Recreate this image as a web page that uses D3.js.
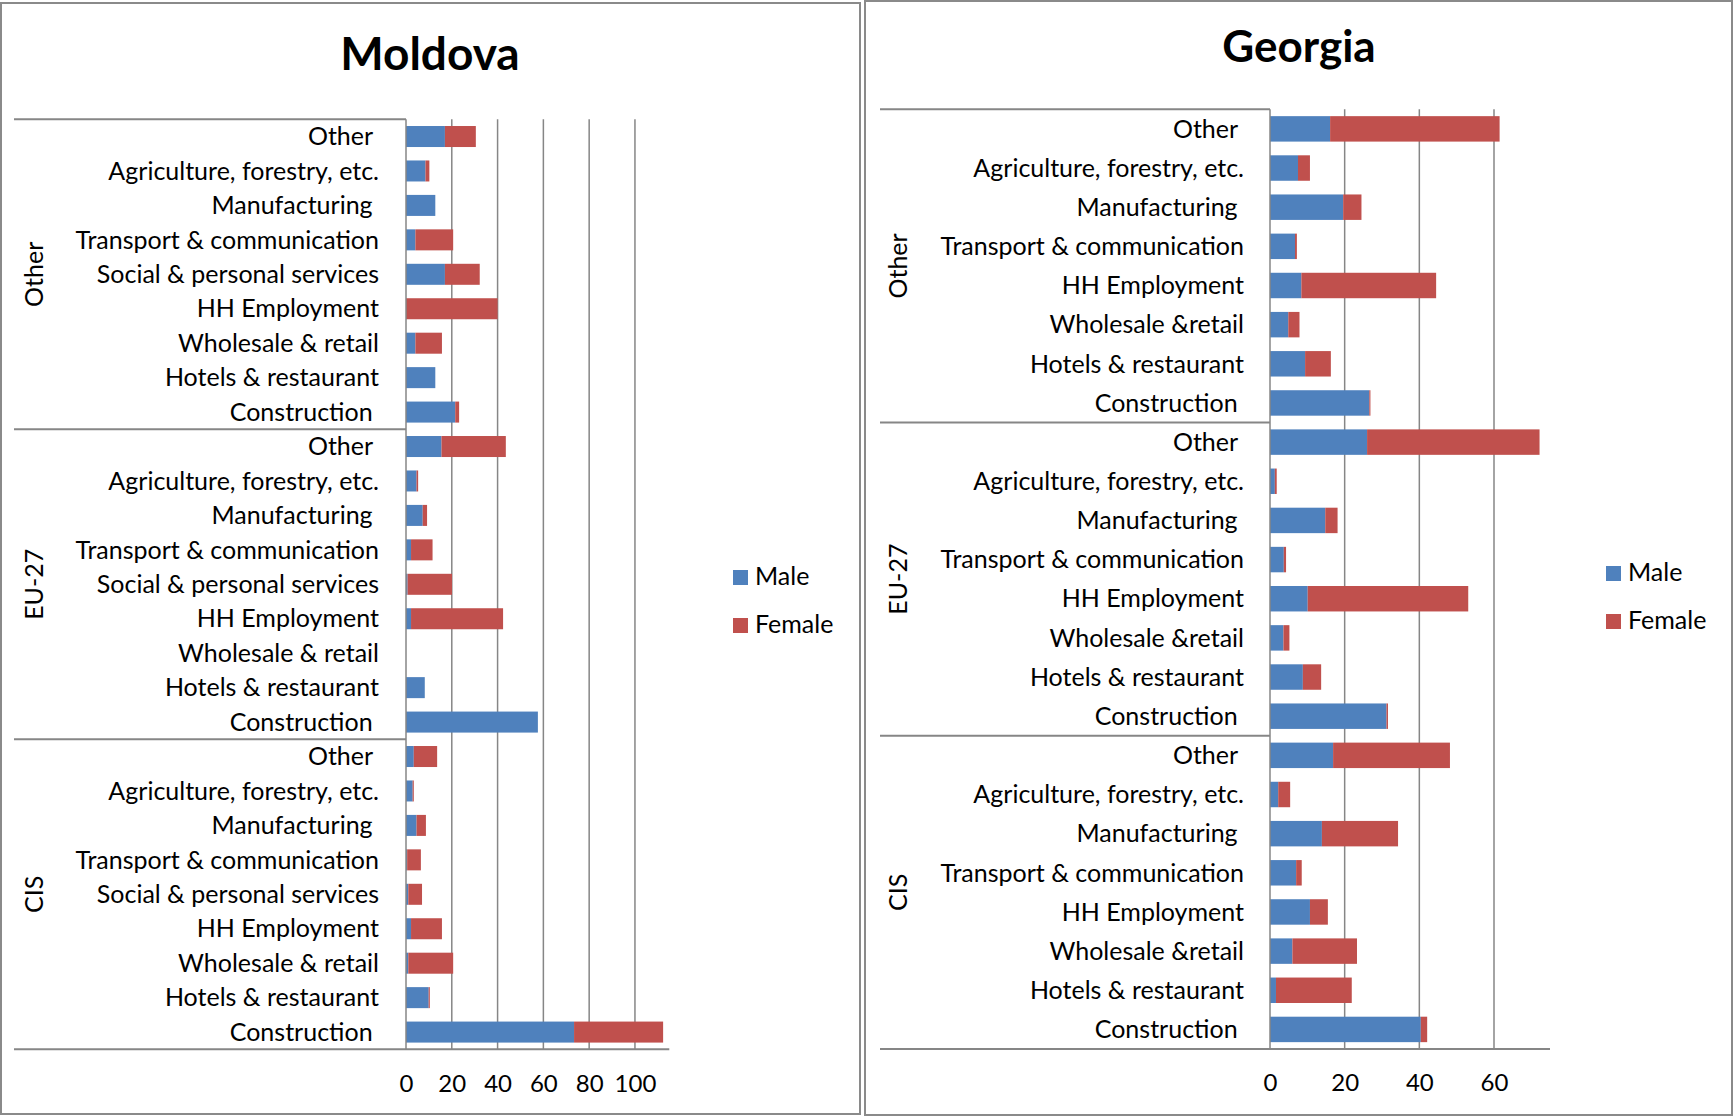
<!DOCTYPE html>
<html>
<head>
<meta charset="utf-8">
<script src="https://cdn.jsdelivr.net/npm/d3@7"></script>
<style>
  html, body { margin: 0; padding: 0; background: #fff; }
  text { font-family: Lato, "Open Sans", sans-serif; fill: #000; white-space: pre; }
</style>
</head>
<body>
<svg id="chart" width="1735" height="1117"></svg>
<script>
// Destination groups (outer category level), top to bottom
const groups = ["Other", "EU-27", "CIS"];

// Sectors (inner category level), top to bottom within each group
const moldovaSectors = ["Other ", "Agriculture, forestry, etc.", "Manufacturing ", "Transport & communication",
  "Social & personal services", "HH Employment", "Wholesale & retail", "Hotels & restaurant", "Construction "];
const georgiaSectors = ["Other ", "Agriculture, forestry, etc.", "Manufacturing ", "Transport & communication",
  "HH Employment", "Wholesale &retail", "Hotels & restaurant", "Construction "];

// Moldova: one row per group, values in sector order
const moldovaMale = [
  [17.0, 8.5, 12.8, 4.1, 17.0, 0.0, 4.1, 12.8, 21.5],
  [15.5, 4.6, 7.3, 2.2, 0.7, 2.2, 0.0, 8.2, 57.6],
  [3.4, 2.9, 4.6, 0.5, 1.0, 2.2, 1.0, 9.9, 73.4]
];
const moldovaFemale = [
  [13.5, 1.7, 0.0, 16.5, 15.2, 40.0, 11.6, 0.0, 1.7],
  [28.1, 0.7, 1.9, 9.4, 19.4, 40.2, 0.0, 0.0, 0.0],
  [10.2, 0.5, 4.1, 6.0, 6.0, 13.5, 19.6, 0.5, 38.9]
];

// Georgia: one row per group, values in sector order
const georgiaMale = [
  [16.1, 7.5, 19.6, 6.7, 8.4, 4.9, 9.4, 26.6],
  [26.0, 1.3, 14.8, 3.7, 10.1, 3.6, 8.8, 31.2],
  [16.9, 2.2, 13.9, 7.0, 10.7, 6.0, 1.6, 40.4]
];
const georgiaFemale = [
  [45.4, 3.2, 4.9, 0.5, 36.1, 3.0, 6.9, 0.3],
  [46.2, 0.5, 3.3, 0.6, 43.0, 1.6, 4.9, 0.4],
  [31.3, 3.2, 20.4, 1.5, 4.8, 17.3, 20.3, 1.7]
];

// Axis ticks
const moldovaTicks = [0, 20, 40, 60, 80, 100];
const georgiaTicks = [0, 20, 40, 60];

// Series
const seriesKeys = ["male", "female"];
const seriesNames = ["Male", "Female"];
const seriesColors = ["#4F81BD", "#C0504D"];

const svg = d3.select("#chart");
const gridColor = "#868686";

function drawPanel(cfg) {
  const g = svg.append("g");

  // panel frame
  g.append("rect")
    .attr("x", cfg.frame[0]).attr("y", cfg.frame[1])
    .attr("width", cfg.frame[2]).attr("height", cfg.frame[3])
    .attr("fill", "none").attr("stroke", "#8a8a8a").attr("stroke-width", 2);

  // title
  g.append("text")
    .attr("x", cfg.titleX).attr("y", cfg.titleY)
    .attr("text-anchor", "middle")
    .style("font-weight", "bold").style("font-size", cfg.titleSize + "px")
    .text(cfg.title);

  // rows
  const rows = [];
  groups.forEach((grp, gi) => {
    cfg.sectors.forEach((sec, si) => {
      rows.push({ key: grp + "|" + si, group: grp, sector: sec,
        male: cfg.male[gi][si], female: cfg.female[gi][si] });
    });
  });

  const x = d3.scaleLinear().domain([0, cfg.xMax]).range([cfg.x0, cfg.x1]);
  const pad = cfg.pad;
  const y = d3.scaleBand().domain(rows.map(d => d.key))
    .range([cfg.yTop, cfg.yBottom]).paddingInner(pad).paddingOuter(pad / 2);
  const step = y.step();

  // vertical gridlines
  g.append("g").selectAll("line")
    .data(cfg.ticks.filter(t => t > 0))
    .join("line")
    .attr("x1", d => x(d)).attr("x2", d => x(d))
    .attr("y1", cfg.yTop).attr("y2", cfg.yBottom)
    .attr("stroke", gridColor).attr("stroke-width", 1.5);

  // stacked bars
  const stacked = d3.stack().keys(seriesKeys)(rows);
  g.append("g").selectAll("g")
    .data(stacked)
    .join("g")
    .attr("fill", (d, i) => seriesColors[i])
    .selectAll("rect")
    .data(d => d)
    .join("rect")
    .attr("x", d => x(d[0]))
    .attr("width", d => Math.max(0, x(d[1]) - x(d[0])))
    .attr("y", d => y(d.data.key))
    .attr("height", y.bandwidth());

  // category axis line
  g.append("line")
    .attr("x1", cfg.x0).attr("x2", cfg.x0)
    .attr("y1", cfg.yTop).attr("y2", cfg.yBottom)
    .attr("stroke", gridColor).attr("stroke-width", 1.5);

  // group separators (top and between groups)
  const sepYs = groups.map((grp) => y(grp + "|0") - step * pad / 2);
  g.append("g").selectAll("line")
    .data(sepYs)
    .join("line")
    .attr("x1", cfg.sepX).attr("x2", cfg.x0)
    .attr("y1", d => d).attr("y2", d => d)
    .attr("stroke", gridColor).attr("stroke-width", 2);

  // bottom value axis line
  g.append("line")
    .attr("x1", cfg.sepX).attr("x2", cfg.x1)
    .attr("y1", cfg.yBottom).attr("y2", cfg.yBottom)
    .attr("stroke", gridColor).attr("stroke-width", 2);

  // sector labels
  g.append("g").selectAll("text")
    .data(rows)
    .join("text")
    .attr("x", cfg.x0 - cfg.labelGap)
    .attr("y", d => y(d.key) + y.bandwidth() / 2)
    .attr("dy", "0.35em")
    .attr("text-anchor", "end")
    .style("font-size", cfg.fontSize + "px")
    .text(d => d.sector);

  // group labels (rotated)
  const groupSpan = (cfg.yBottom - cfg.yTop) / groups.length;
  g.append("g").selectAll("text")
    .data(groups)
    .join("text")
    .attr("transform", (d, i) => `translate(${cfg.groupX},${sepYs[i] + groupSpan / 2}) rotate(-90)`)
    .attr("text-anchor", "middle")
    .style("font-size", cfg.fontSize + "px")
    .text(d => d);

  // value axis tick labels
  const axis = d3.axisBottom(x).tickValues(cfg.ticks).tickSize(0).tickPadding(cfg.tickPad);
  const ax = g.append("g").attr("transform", `translate(0,${cfg.yBottom})`).call(axis);
  ax.select(".domain").remove();
  ax.selectAll("text").style("font-size", cfg.tickSize + "px")
    .style("font-family", "Lato, 'Open Sans', sans-serif").attr("fill", "#000");

  // legend
  const lg = g.append("g").selectAll("g")
    .data(seriesNames)
    .join("g")
    .attr("transform", (d, i) => `translate(${cfg.legendX},${cfg.legendY + i * 48})`);
  lg.append("rect").attr("x", 0).attr("y", -15).attr("width", 15).attr("height", 15)
    .attr("fill", (d, i) => seriesColors[i]);
  lg.append("text").attr("x", 22).attr("y", 0)
    .style("font-size", cfg.fontSize + "px").text(d => d);
}

drawPanel({
  title: "Moldova", titleX: 430, titleY: 70, titleSize: 46,
  frame: [1, 3, 859, 1111],
  sectors: moldovaSectors, male: moldovaMale, female: moldovaFemale,
  xMax: 115, ticks: moldovaTicks,
  x0: 406, x1: 669.3, yTop: 119.3, yBottom: 1049.3, pad: 0.39,
  sepX: 14, labelGap: 27, groupX: 43, fontSize: 25, tickSize: 24, tickPad: 26,
  legendX: 733, legendY: 585
});

drawPanel({
  title: "Georgia", titleX: 1299, titleY: 62, titleSize: 44,
  frame: [865, 1, 867, 1114],
  sectors: georgiaSectors, male: georgiaMale, female: georgiaFemale,
  xMax: 75, ticks: georgiaTicks,
  x0: 1270, x1: 1550, yTop: 109.3, yBottom: 1049, pad: 0.35,
  sepX: 880, labelGap: 26, groupX: 907, fontSize: 25, tickSize: 24, tickPad: 25,
  legendX: 1606, legendY: 581
});
</script>
</body>
</html>
